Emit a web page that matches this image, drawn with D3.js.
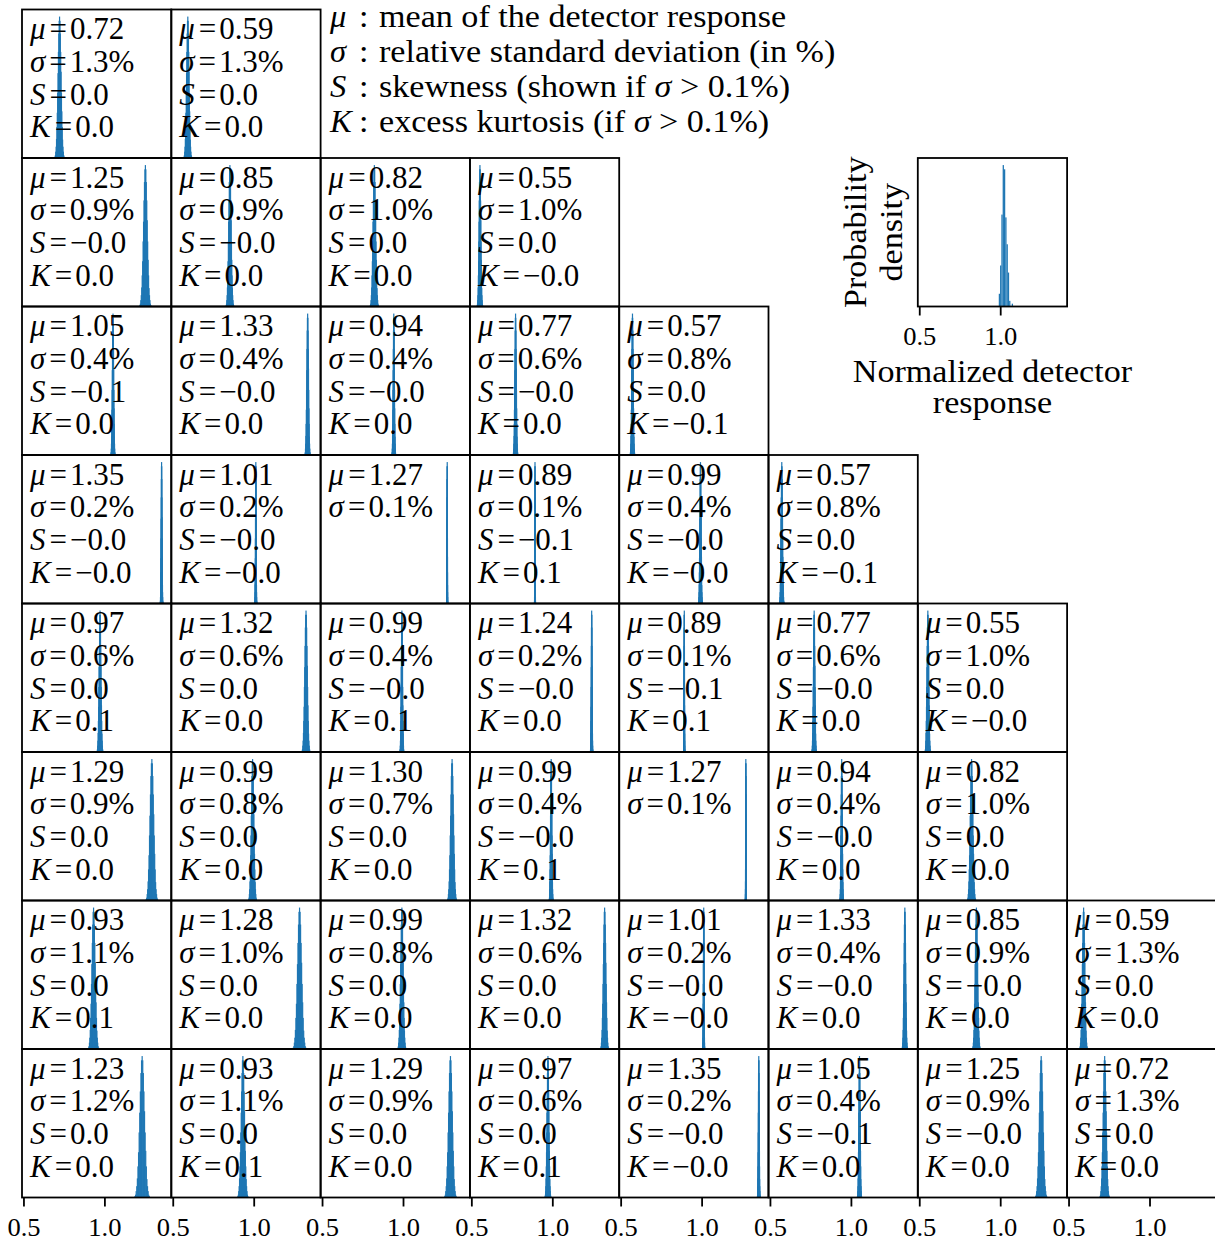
<!DOCTYPE html>
<html><head><meta charset="utf-8">
<script src="https://cdn.jsdelivr.net/npm/d3@7"></script>
<style>body{margin:0;background:#fff} svg{display:block}</style>
</head><body><svg id="chart" width="1215" height="1243"></svg>
<script>
// ---------------- data ----------------
const means = [
  [0.72, 0.59],
  [1.25, 0.85, 0.82, 0.55],
  [1.05, 1.33, 0.94, 0.77, 0.57],
  [1.35, 1.01, 1.27, 0.89, 0.99, 0.57],
  [0.97, 1.32, 0.99, 1.24, 0.89, 0.77, 0.55],
  [1.29, 0.99, 1.30, 0.99, 1.27, 0.94, 0.82],
  [0.93, 1.28, 0.99, 1.32, 1.01, 1.33, 0.85, 0.59],
  [1.23, 0.93, 1.29, 0.97, 1.35, 1.05, 1.25, 0.72]
];
// relative standard deviation in %
const sigmas = [
  [1.3, 1.3],
  [0.9, 0.9, 1.0, 1.0],
  [0.4, 0.4, 0.4, 0.6, 0.8],
  [0.2, 0.2, 0.08, 0.12, 0.4, 0.8],
  [0.6, 0.6, 0.4, 0.2, 0.12, 0.6, 1.0],
  [0.9, 0.8, 0.7, 0.4, 0.08, 0.4, 1.0],
  [1.1, 1.0, 0.8, 0.6, 0.2, 0.4, 0.9, 1.3],
  [1.2, 1.1, 0.9, 0.6, 0.2, 0.4, 0.9, 1.3]
];
const skews = [
  [0.01, 0.01],
  [-0.01, -0.01, 0.01, 0.01],
  [-0.1, -0.01, -0.01, -0.01, 0.01],
  [-0.01, -0.01, null, -0.1, -0.01, 0.01],
  [0.01, 0.01, -0.01, -0.01, -0.1, -0.01, 0.01],
  [0.01, 0.01, 0.01, -0.01, null, -0.01, 0.01],
  [0.01, 0.01, 0.01, 0.01, -0.01, -0.01, -0.01, 0.01],
  [0.01, 0.01, 0.01, 0.01, -0.01, -0.1, -0.01, 0.01]
];
const kurts = [
  [0.01, 0.01],
  [0.01, 0.01, 0.01, -0.01],
  [0.01, 0.01, 0.01, 0.01, -0.1],
  [-0.01, -0.01, null, 0.1, -0.01, -0.1],
  [0.1, 0.01, 0.1, 0.01, 0.1, 0.01, -0.01],
  [0.01, 0.01, 0.01, 0.1, null, 0.01, 0.01],
  [0.1, 0.01, 0.01, 0.01, -0.01, 0.01, 0.01, 0.01],
  [0.01, 0.1, 0.01, 0.1, -0.01, 0.01, 0.01, 0.01]
];
// shared histogram shape (relative bin heights, bins of 0.25 sd from -3 sd to +3 sd)
const binProfile = [0.01, 0.02, 0.045, 0.08, 0.135, 0.22, 0.32, 0.46, 0.6, 0.75, 0.88, 0.97, 1.0,
                    0.97, 0.88, 0.75, 0.61, 0.46, 0.33, 0.22, 0.13, 0.08, 0.045, 0.02, 0.01];
// inset example histogram
const insetCenters = [0.992, 1.000, 1.008, 1.016, 1.024, 1.032, 1.040, 1.048, 1.056, 1.072];
const insetHeights = [0.09, 0.29, 0.65, 1.0, 0.97, 0.63, 0.44, 0.24, 0.04, 0.02];
const tickValues = [0.5, 1.0];
const tickLabels = ["0.5", "1.0"];
const legendSymbols = ["μ", "σ", "S", "K"];
const legendTexts = [
  [["mean of the detector response", false]],
  [["relative standard deviation (in %)", false]],
  [["skewness (shown if ", false], ["σ", true], [" > 0.1%)", false]],
  [["excess kurtosis (if ", false], ["σ", true], [" > 0.1%)", false]]
];

// ---------------- layout ----------------
const svg = d3.select("#chart");
const FONT = "'Liberation Serif', 'Times New Roman', serif";
const leftM = 22, topM = 9.5, cellW = 149.3, cellH = 148.5;
const blue = "#1f77b4";
const x = d3.scaleLinear().domain([0.488, 1.41]).range([0, cellW]);
const y = d3.scaleLinear().domain([0, 1.05]).range([cellH, 0]);

function addText(g, tx, ty, parts, size, sx, anchor, rotate) {
  const t = g.append("text")
    .attr("transform", `translate(${tx},${ty})` + (rotate ? ` rotate(${rotate})` : "") + ` scale(${sx},1)`)
    .attr("font-family", FONT).attr("font-size", size).attr("fill", "#000")
    .attr("text-anchor", anchor || "start");
  parts.forEach(p => {
    const ts = t.append("tspan").attr("font-style", p[1] ? "italic" : "normal").text(p[0]);
    if (p[2]) ts.attr("dx", p[2]);
  });
  return t;
}
const fmt = v => v.toFixed(1).replace("-", "\u2212");

function drawBars(g, bars) {
  g.selectAll("rect.bar").data(bars).join("rect").attr("class", "bar")
    .attr("x", d => { const w = x(d.x1) - x(d.x0); return w < 1.2 ? (x(d.x0) + x(d.x1)) / 2 - 0.6 : x(d.x0); })
    .attr("width", d => Math.max(1.2, x(d.x1) - x(d.x0)))
    .attr("y", d => y(d.h))
    .attr("height", d => cellH - y(d.h))
    .attr("fill", blue);
}
function drawFrame(g) {
  g.append("rect").attr("width", cellW).attr("height", cellH)
    .attr("fill", "none").attr("stroke", "#000").attr("stroke-width", 1.8);
}
function drawTicks(g) {
  tickValues.forEach((v, i) => {
    g.append("line").attr("x1", x(v)).attr("x2", x(v)).attr("y1", cellH).attr("y2", cellH + 9)
      .attr("stroke", "#000").attr("stroke-width", 1.8);
    addText(g, x(v), cellH + 38, [[tickLabels[i], false]], 25.5, 1.04, "middle");
  });
}

means.forEach((row, r) => {
  row.forEach((mu, c) => {
    const g = svg.append("g").attr("transform", `translate(${leftM + c * cellW},${topM + r * cellH})`);
    const sd = mu * sigmas[r][c] / 100;
    const bars = binProfile.map((h, i) => {
      const z = (i - 12) * 0.25;
      return { x0: mu + (z - 0.125) * sd, x1: mu + (z + 0.125) * sd, h: h };
    });
    drawBars(g, bars);
    const eq = v => [["=", false, 4], [v, false, 3]];
    const lines = [
      [["μ", true]].concat(eq(mu.toFixed(2))),
      [["σ", true]].concat(eq(fmt(sigmas[r][c]) + "%"))
    ];
    if (sigmas[r][c] > 0.1 && skews[r][c] !== null) {
      lines.push([["S", true]].concat(eq(fmt(skews[r][c]))));
      lines.push([["K", true]].concat(eq(fmt(kurts[r][c]))));
    }
    lines.forEach((ln, i) => addText(g, 8, 29.8 + i * 32.6, ln, 31, 1.0, "start"));
    drawFrame(g);
    if (r === means.length - 1) drawTicks(g);
  });
});

// legend text
legendSymbols.forEach((s, i) => {
  const by = 26.5 + i * 35.1;
  addText(svg, 330, by, [[s, true]], 31, 1.05, "start");
  addText(svg, 359, by, [[":", false]], 31, 1.1, "start");
  addText(svg, 379, by, legendTexts[i], 31, 1.1, "start");
});

// inset explanatory axes
const ig = svg.append("g").attr("transform", `translate(${leftM + 6 * cellW},${topM + 1 * cellH})`);
drawBars(ig, insetCenters.map((c, i) => ({ x0: c - 0.004, x1: c + 0.004, h: insetHeights[i] })));
drawFrame(ig);
drawTicks(ig);
addText(ig, cellW / 2, 224, [["Normalized detector", false]], 31, 1.1, "middle");
addText(ig, cellW / 2, 255, [["response", false]], 31, 1.1, "middle");
addText(ig, -52, cellH / 2, [["Probability", false]], 31, 1.1, "middle", -90);
addText(ig, -16, cellH / 2, [["density", false]], 31, 1.1, "middle", -90);
</script></body></html>
